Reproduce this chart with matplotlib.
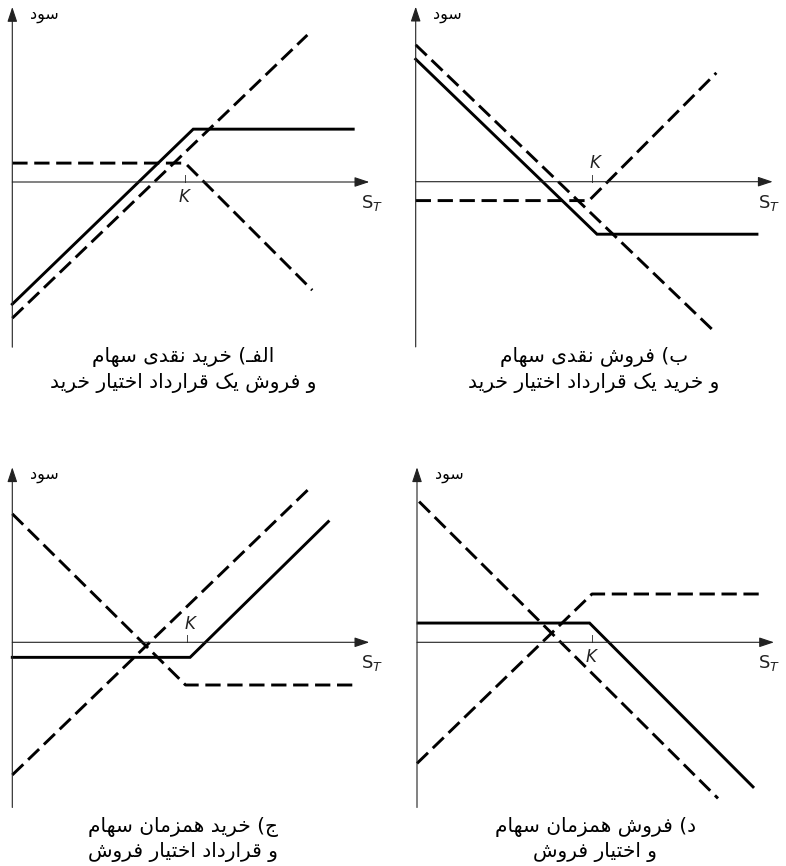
import matplotlib
matplotlib.use("Agg")
from matplotlib import pyplot as plt

plt.rcParams['lines.scale_dashes'] = False
plt.rcParams['mathtext.fontset'] = 'dejavusans'

# strike price per panel (same units as the payoff values)
K_VALUES = [49.4, 50.3, 49.8, 50.0]

# panel a: long stock + short call
A_STOCK_X = [0, 84.3]
A_STOCK_Y = [-38.9, 42.0]
A_OPT_X = [0, 49.4, 85.7]
A_OPT_Y = [5.4, 5.4, -30.9]
A_TOTAL_X = [0, 51.7, 97.4]
A_TOTAL_Y = [-34.9, 15.1, 15.1]

# panel b: short stock + long call
B_STOCK_X = [0, 84.9]
B_STOCK_Y = [39.1, -42.4]
B_OPT_X = [0, 49.5, 85.9]
B_OPT_Y = [-5.4, -5.4, 31.1]
B_TOTAL_X = [0, 51.8, 97.5]
B_TOTAL_Y = [35.0, -15.0, -15.0]

# panel c: long stock + long put
C_STOCK_X = [0, 84.6]
C_STOCK_Y = [-37.9, 43.7]
C_OPT_X = [0, 49.5, 98.9]
C_OPT_Y = [36.7, -12.2, -12.2]
C_TOTAL_X = [0, 50.8, 90.3]
C_TOTAL_Y = [-4.3, -4.3, 34.5]

# panel d: short stock + short put
D_STOCK_X = [0.6, 86.0]
D_STOCK_Y = [40.2, -44.6]
D_OPT_X = [0, 50.0, 99.0]
D_OPT_Y = [-34.6, 13.8, 13.8]
D_TOTAL_X = [0.3, 49.3, 96.0]
D_TOTAL_Y = [5.5, 5.5, -41.3]

Y_LABEL = 'سود'
CAPTIONS = [
    ['الفـ) خرید نقدی سهام', 'و فروش یک قرارداد اختیار خرید'],
    ['ب) فروش نقدی سهام', 'و خرید یک قرارداد اختیار خرید'],
    ['ج) خرید همزمان سهام', 'و قرارداد اختیار فروش'],
    ['د) فروش همزمان سهام', 'و اختیار فروش'],
]

# matplotlib has no arabic shaping, so pick the presentation forms by hand
# isolated, final, initial, medial
ARABIC_FORMS = {
    '\u0627': ('\uFE8D', '\uFE8E'),
    '\u062F': ('\uFEA9', '\uFEAA'),
    '\u0631': ('\uFEAD', '\uFEAE'),
    '\u0632': ('\uFEAF', '\uFEB0'),
    '\u0648': ('\uFEED', '\uFEEE'),
    '\u0628': ('\uFE8F', '\uFE90', '\uFE91', '\uFE92'),
    '\u062A': ('\uFE95', '\uFE96', '\uFE97', '\uFE98'),
    '\u062C': ('\uFE9D', '\uFE9E', '\uFE9F', '\uFEA0'),
    '\u062E': ('\uFEA5', '\uFEA6', '\uFEA7', '\uFEA8'),
    '\u0633': ('\uFEB1', '\uFEB2', '\uFEB3', '\uFEB4'),
    '\u0634': ('\uFEB5', '\uFEB6', '\uFEB7', '\uFEB8'),
    '\u0641': ('\uFED1', '\uFED2', '\uFED3', '\uFED4'),
    '\u0642': ('\uFED5', '\uFED6', '\uFED7', '\uFED8'),
    '\u0644': ('\uFEDD', '\uFEDE', '\uFEDF', '\uFEE0'),
    '\u0645': ('\uFEE1', '\uFEE2', '\uFEE3', '\uFEE4'),
    '\u0646': ('\uFEE5', '\uFEE6', '\uFEE7', '\uFEE8'),
    '\u0647': ('\uFEE9', '\uFEEA', '\uFEEB', '\uFEEC'),
    '\u06A9': ('\uFB8E', '\uFB8F', '\uFB90', '\uFB91'),
    '\u06CC': ('\uFBFC', '\uFBFD', '\uFBFE', '\uFBFF'),
    '\u0640': ('\u0640', '\u0640', '\u0640', '\u0640'),
}
MIRROR = {'(': ')', ')': '('}


def farsi(text):
    out = []
    for i, ch in enumerate(text):
        forms = ARABIC_FORMS.get(ch)
        if forms is None:
            out.append(MIRROR.get(ch, ch))
            continue
        prev = text[i - 1] if i > 0 else ''
        nxt = text[i + 1] if i + 1 < len(text) else ''
        join_prev = len(ARABIC_FORMS.get(prev, ())) == 4
        join_next = len(forms) == 4 and nxt in ARABIC_FORMS
        if join_prev and join_next:
            out.append(forms[3])
        elif join_prev:
            out.append(forms[1])
        elif join_next:
            out.append(forms[2])
        else:
            out.append(forms[0])
    # right to left -> reverse for display
    return ''.join(reversed(out))


W, H = 786, 866
SCALE = 3.5  # pixels per unit
fig = plt.figure(figsize=(W / 100, H / 100), dpi=100)

boxes = [(0, 0, 393, 433), (393, 0, 393, 433), (0, 433, 393, 433), (393, 433, 393, 433)]
origins = [(12.3, 182.0), (415.7, 181.7), (12.3, 642.3), (417.0, 642.3)]
k_below = [True, False, False, True]
st_x = [102.8, 101.0, 102.8, 100.6]
caption_y = [(-50.0, -57.4), (-50.0, -57.4), (-52.8, -59.9), (-52.8, -59.9)]
caption_x = [48.8, 50.9, 48.8, 50.9]

panels = [
    (A_STOCK_X, A_STOCK_Y, A_OPT_X, A_OPT_Y, A_TOTAL_X, A_TOTAL_Y),
    (B_STOCK_X, B_STOCK_Y, B_OPT_X, B_OPT_Y, B_TOTAL_X, B_TOTAL_Y),
    (C_STOCK_X, C_STOCK_Y, C_OPT_X, C_OPT_Y, C_TOTAL_X, C_TOTAL_Y),
    (D_STOCK_X, D_STOCK_Y, D_OPT_X, D_OPT_Y, D_TOTAL_X, D_TOTAL_Y),
]

dash = (0, (11.0, 4.8))
arrow = dict(arrowstyle='-|>,head_length=0.9,head_width=0.3', color='#222',
             lw=0.8, shrinkA=0, shrinkB=0)

for i in range(4):
    x0, y0, w, h = boxes[i]
    ox, oy = origins[i]
    ax = fig.add_axes([x0 / W, 1 - (y0 + h) / H, w / W, h / H])
    ax.set_xlim((x0 - ox) / SCALE, (x0 + w - ox) / SCALE)
    ax.set_ylim((oy - (y0 + h)) / SCALE, (oy - y0) / SCALE)
    ax.axis('off')

    # axes drawn as arrows
    ax.annotate('', xy=(0, 50), xytext=(0, -47.2), arrowprops=arrow)
    ax.annotate('', xy=(102, 0), xytext=(0, 0), arrowprops=arrow)
    k = K_VALUES[i]
    ax.plot([k, k], [0, 2], color='#444', lw=0.7)

    sx, sy, opx, opy, tx, ty = panels[i]
    ax.plot(sx, sy, color='black', lw=2.1, ls=dash, dash_capstyle='butt', clip_on=False)
    ax.plot(opx, opy, color='black', lw=2.1, ls=dash, dash_capstyle='butt', clip_on=False)
    ax.plot(tx, ty, color='black', lw=2.1, solid_joinstyle='miter', clip_on=False)

    if k_below[i]:
        ax.text(k - 0.3, -4.3, 'K', fontsize=12, style='italic', color='#222',
                ha='center', va='center')
    else:
        ax.text(k + 1.0, 5.3, 'K', fontsize=12, style='italic', color='#222',
                ha='center', va='center')
    ax.text(st_x[i], -6.0, r'$\mathrm{S}_{T}$', fontsize=13, color='#222',
            ha='center', va='center')
    ax.text(5.0, 47.6, farsi(Y_LABEL), fontsize=11.5, family=['DejaVu Sans'],
            ha='left', va='center')
    for line, yy in zip(CAPTIONS[i], caption_y[i]):
        ax.text(caption_x[i], yy, farsi(line), fontsize=14.5, family=['DejaVu Sans'],
                ha='center', va='center')

fig.savefig('out.png', dpi=100)
